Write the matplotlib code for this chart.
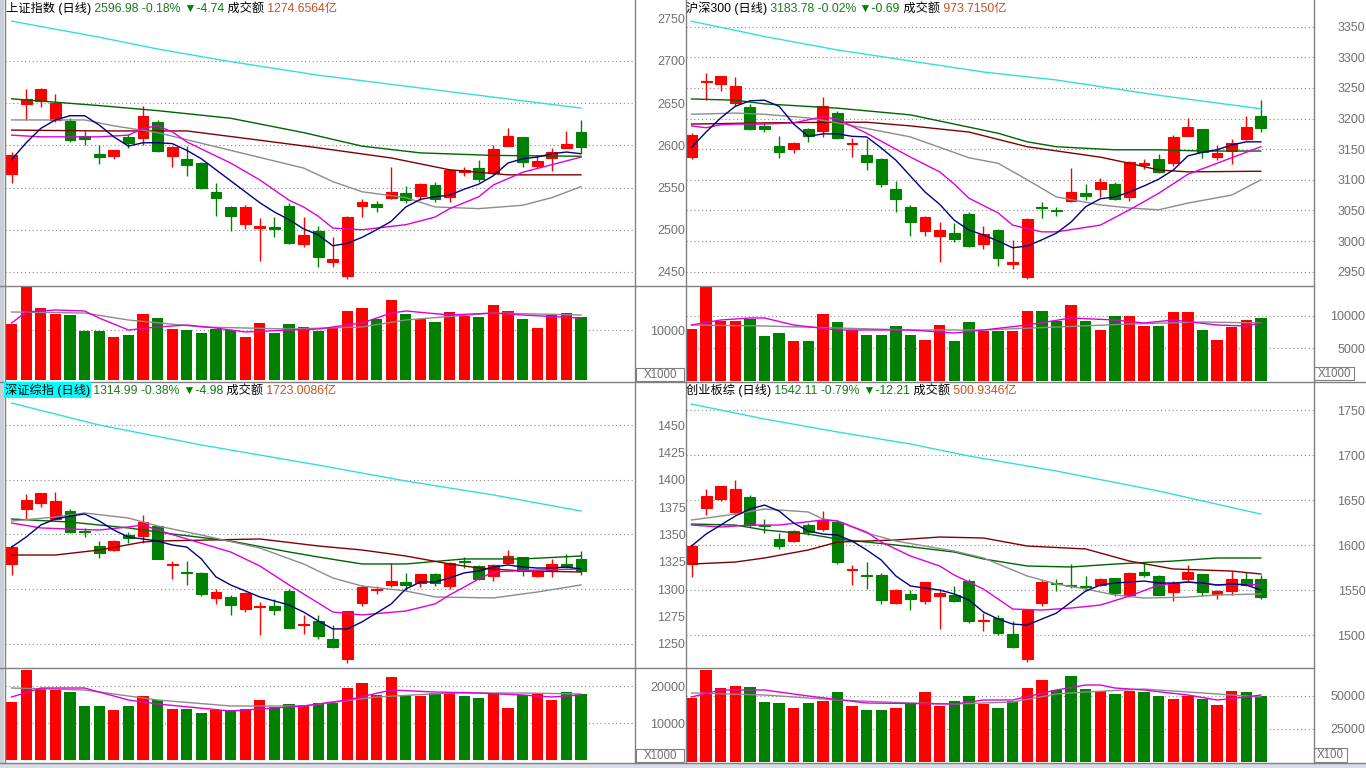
import numpy as np
import matplotlib
matplotlib.use("Agg")
import matplotlib.pyplot as plt

plt.rcParams["font.family"] = ["Liberation Sans", "Noto Sans CJK SC", "DejaVu Sans"]

W, H = 1366, 768
RED, GREEN = "#FF0000", "#008000"
MA_COLORS = {"ma5": "#000080", "ma10": "#DD00DD", "ma20": "#8C8C8C",
             "ma30": "#006400", "ma60": "#800000", "ma250": "#33DDDD"}

# ---------------- 上证指数 ----------------
sh_open = [2566.0, 2648.9, 2652.4, 2630.0, 2628.8, 2611.0, 2589.7, 2587.3, 2609.8, 2608.6,
           2627.6, 2587.3, 2583.8, 2579.0, 2544.7, 2527.0, 2506.8, 2502.1, 2503.3, 2528.1,
           2483.1, 2498.5, 2461.8, 2445.3, 2528.1, 2530.5, 2537.6, 2543.5, 2540.0, 2553.0,
           2538.8, 2568.4, 2573.1, 2567.2, 2599.2, 2609.8, 2575.5, 2585.0, 2596.8, 2615.7]
sh_high = [2592.0, 2666.7, 2667.8, 2660.7, 2632.3, 2617.0, 2600.4, 2594.4, 2613.4, 2646.5,
           2630.0, 2599.2, 2599.2, 2580.2, 2555.4, 2528.1, 2529.3, 2513.9, 2515.1, 2531.7,
           2515.1, 2504.4, 2491.4, 2516.3, 2536.4, 2534.1, 2574.3, 2551.8, 2555.4, 2556.6,
           2572.0, 2574.3, 2582.6, 2600.4, 2620.5, 2609.8, 2588.5, 2596.8, 2616.9, 2629.9]
sh_low = [2555.0, 2630.0, 2645.3, 2627.6, 2603.9, 2600.4, 2577.9, 2583.8, 2596.8, 2600.4,
          2592.1, 2574.3, 2563.7, 2548.3, 2516.3, 2498.5, 2500.9, 2463.0, 2491.4, 2483.1,
          2479.6, 2456.1, 2456.1, 2441.7, 2515.1, 2521.0, 2536.4, 2531.7, 2535.2, 2532.9,
          2532.9, 2563.7, 2556.6, 2566.0, 2599.2, 2574.3, 2573.1, 2569.6, 2596.8, 2590.9]
sh_close = [2588.5, 2654.8, 2666.7, 2650.0, 2606.3, 2607.5, 2586.1, 2594.4, 2602.7, 2634.7,
            2593.3, 2598.0, 2576.7, 2549.4, 2537.6, 2516.3, 2527.0, 2504.4, 2500.9, 2484.3,
            2493.8, 2467.7, 2465.4, 2515.1, 2532.9, 2527.0, 2544.7, 2535.2, 2554.2, 2536.4,
            2570.8, 2570.8, 2560.1, 2595.6, 2611.0, 2580.2, 2581.4, 2592.1, 2601.5, 2598.0]
sh_vol = [11200, 18750, 14450, 13230, 13030, 9860, 9860, 8590, 8990, 13230,
          12420, 10200, 10000, 9460, 10270, 10000, 8590, 11420, 9460, 11200,
          10700, 9860, 10340, 13840, 14450, 12220, 16060, 13230, 12290, 11620,
          13640, 12830, 12690, 15050, 13900, 12220, 10400, 13030, 13430, 12630]
sh_ma5 = [2583, 2603, 2620, 2630, 2635, 2635, 2624, 2610, 2599, 2603,
          2603, 2602, 2594, 2584, 2571, 2558, 2545, 2532, 2521, 2512,
          2501, 2494, 2481, 2484, 2491, 2500, 2510, 2527, 2536, 2539,
          2541, 2548, 2554, 2564, 2579, 2584, 2586, 2590, 2592, 2590]
sh_ma10_x = [0, 2, 4, 6, 8, 9, 10, 11, 12, 15, 17, 19, 20, 21, 22, 24, 27, 29, 30, 32, 33, 35, 37, 39]
sh_ma10 = [2612, 2610, 2610, 2610, 2612, 2620, 2623, 2616, 2604, 2579, 2559, 2535, 2527, 2516,
           2502, 2500, 2506, 2515, 2525, 2539, 2553, 2568, 2577, 2586]
sh_ma20_x = [0, 5, 7, 10, 15, 20, 22, 24, 27, 29, 32, 35, 37, 39]
sh_ma20 = [2630, 2630, 2623, 2615, 2594, 2573, 2557, 2545, 2538, 2527, 2525, 2529, 2538, 2551]
sh_ma30_x = [0, 6, 10, 15, 20, 24, 28, 33, 39]
sh_ma30 = [2655, 2647, 2641, 2632, 2615, 2599, 2591, 2588, 2587]
sh_ma60_x = [0, 6, 12, 17, 21, 26, 30, 34, 39]
sh_ma60 = [2618, 2617, 2617, 2606, 2597, 2585, 2571, 2565, 2565]
sh_ma250_x = [0, 6, 10, 15, 21, 27, 33, 39]
sh_ma250 = [2747, 2728, 2714, 2699, 2683, 2670, 2657, 2644]
sh_vma_a_x = [0, 1, 3, 5, 6, 8, 10, 12, 14, 16, 19, 21, 24, 26, 27, 30, 33, 35, 39]
sh_vma_a = [11410, 13640, 14040, 13840, 12420, 10000, 10610, 11010, 10400, 9600,
            10000, 10200, 11410, 13430, 13840, 13030, 13430, 13030, 12420]
sh_vma_b_x = [0, 5, 8, 13, 19, 24, 27, 33, 39]
sh_vma_b = [13640, 13430, 12020, 10610, 10200, 10610, 12020, 13430, 13030]

# ---------------- 沪深300 ----------------
hs_open = [3137.2, 3259.7, 3256.4, 3225.4, 3218.9, 3187.8, 3155.2, 3150.3, 3182.9, 3179.7,
           3209.1, 3158.4, 3140.5, 3134.0, 3085.0, 3055.6, 3016.4, 3008.2, 3013.1, 3044.1,
           2995.2, 3018.0, 2962.5, 2941.3, 3055.6, 3050.7, 3065.4, 3078.4, 3085.0, 3093.1,
           3071.9, 3124.2, 3134.0, 3127.4, 3171.5, 3182.9, 3137.2, 3147.0, 3166.6, 3204.2]
hs_high = [3176.4, 3274.4, 3269.5, 3267.9, 3223.8, 3192.7, 3171.5, 3161.7, 3184.6, 3235.2,
           3212.3, 3168.2, 3166.6, 3135.6, 3098.0, 3058.8, 3040.9, 3031.1, 3029.4, 3047.4,
           3024.5, 3019.6, 3001.7, 3037.6, 3063.7, 3055.6, 3119.3, 3093.1, 3102.9, 3096.4,
           3130.7, 3134.0, 3142.1, 3173.1, 3200.9, 3182.9, 3156.8, 3166.6, 3204.2, 3230.3]
hs_low = [3134.0, 3230.3, 3245.0, 3220.5, 3181.3, 3178.0, 3135.6, 3143.7, 3161.7, 3169.9,
          3166.6, 3137.2, 3116.0, 3088.2, 3047.4, 3008.2, 3008.2, 2965.8, 2998.4, 2990.2,
          2987.0, 2959.2, 2954.3, 2938.0, 3037.6, 3040.9, 3063.7, 3067.0, 3071.9, 3067.0,
          3065.4, 3117.6, 3111.1, 3122.5, 3171.5, 3135.6, 3132.3, 3125.8, 3165.0, 3178.0]
hs_close = [3173.1, 3261.3, 3269.5, 3253.2, 3182.9, 3182.9, 3145.4, 3160.1, 3171.5, 3220.5,
            3168.2, 3160.1, 3129.1, 3093.1, 3068.6, 3031.1, 3039.2, 3018.0, 3003.3, 2991.9,
            3011.5, 2972.3, 2965.8, 3036.0, 3054.0, 3049.0, 3080.1, 3073.5, 3096.4, 3068.6,
            3129.1, 3127.4, 3112.7, 3169.9, 3186.2, 3145.4, 3143.7, 3160.1, 3186.2, 3184.6]
hs_vol = [7940, 14354, 9162, 9162, 9467, 6872, 7330, 6108, 6108, 10231,
          9009, 7788, 7024, 7024, 8399, 7024, 6261, 8551, 6108, 9009,
          7635, 7635, 7635, 10689, 10689, 9162, 11605, 9162, 7788, 9926,
          9926, 8399, 8399, 10536, 10536, 7788, 6261, 8246, 9315, 9620]
hs_ma5 = [3153, 3178, 3201, 3220, 3229, 3230, 3220, 3191, 3171, 3175,
          3175, 3171, 3170, 3152, 3132, 3106, 3080, 3060, 3034, 3018,
          3010, 3000, 2989, 2992, 3002, 3013, 3031, 3056, 3069, 3072,
          3080, 3090, 3101, 3116, 3139, 3145, 3149, 3157, 3162, 3162]
hs_ma10_x = [0, 1, 2, 3, 5, 7, 9, 10, 12, 15, 17, 18, 19, 21, 22, 24, 25, 28, 30, 32, 34, 36, 39]
hs_ma10 = [3188, 3185, 3190, 3191, 3191, 3193, 3203, 3199, 3176, 3137, 3113, 3093, 3070, 3046,
           3026, 3015, 3015, 3026, 3051, 3078, 3109, 3127, 3154]
hs_ma20_x = [0, 3, 5, 8, 10, 15, 19, 21, 23, 25, 28, 30, 32, 34, 37, 39]
hs_ma20 = [3207, 3209, 3207, 3201, 3193, 3170, 3136, 3127, 3100, 3072, 3059, 3054, 3051, 3062, 3075, 3100]
hs_ma30_x = [0, 3, 5, 10, 15, 19, 21, 23, 25, 29, 32, 35, 39]
hs_ma30 = [3232, 3230, 3224, 3217, 3206, 3186, 3176, 3162, 3154, 3149, 3149, 3147, 3147]
hs_ma60_x = [0, 5, 10, 12, 15, 19, 23, 28, 30, 32, 34, 39]
hs_ma60 = [3191, 3193, 3194, 3194, 3188, 3178, 3154, 3137, 3127, 3116, 3113, 3114]
hs_ma250_x = [0, 5, 10, 15, 20, 25, 32, 39]
hs_ma250 = [3359, 3334, 3312, 3294, 3276, 3263, 3238, 3216]
hs_vma_a_x = [0, 2, 4, 5, 7, 10, 15, 18, 20, 23, 26, 29, 31, 33, 36, 38, 39]
hs_vma_a = [8551, 9315, 9620, 9620, 8551, 7788, 7788, 7330, 7788, 8551, 9620, 9315, 8857,
            9315, 8551, 8399, 8857]
hs_vma_b_x = [0, 5, 10, 15, 20, 25, 30, 35, 39]
hs_vma_b = [8551, 8399, 8093, 7788, 7788, 8246, 8704, 9009, 8857]

# ---------------- 深证综指 ----------------
sz_open = [1323.3, 1373.6, 1379.1, 1363.9, 1371.3, 1353.2, 1339.2, 1336.1, 1349.8, 1348.6,
           1357.5, 1322.1, 1315.7, 1314.8, 1291.8, 1292.8, 1282.1, 1283.6, 1284.5, 1298.0,
           1266.9, 1270.8, 1254.0, 1235.7, 1287.5, 1299.2, 1304.0, 1306.5, 1305.6, 1313.6,
           1302.6, 1325.7, 1320.9, 1311.7, 1324.2, 1329.4, 1311.7, 1317.8, 1322.7, 1327.3]
sz_high = [1340.4, 1386.8, 1388.0, 1388.9, 1373.6, 1356.2, 1343.8, 1345.0, 1352.3, 1367.6,
           1357.8, 1325.7, 1325.5, 1315.7, 1299.8, 1294.9, 1297.3, 1288.2, 1291.2, 1299.8,
           1276.0, 1276.3, 1267.4, 1280.0, 1304.0, 1302.8, 1323.9, 1314.8, 1314.1, 1315.0,
           1324.8, 1329.4, 1322.3, 1323.3, 1335.5, 1329.4, 1317.5, 1327.3, 1331.9, 1334.6]
sz_low = [1312.9, 1364.5, 1375.2, 1363.3, 1351.4, 1347.7, 1328.8, 1334.9, 1342.5, 1342.2,
          1327.6, 1309.0, 1303.5, 1293.7, 1286.6, 1276.0, 1279.0, 1257.7, 1276.0, 1264.4,
          1258.6, 1254.6, 1246.3, 1232.6, 1284.5, 1295.8, 1301.9, 1298.0, 1301.9, 1302.8,
          1299.8, 1319.6, 1308.6, 1307.2, 1323.3, 1311.7, 1311.1, 1311.1, 1319.3, 1313.2]
sz_close = [1338.6, 1381.3, 1388.0, 1380.7, 1352.3, 1352.3, 1333.3, 1343.8, 1347.1, 1361.5,
            1327.8, 1323.3, 1314.3, 1295.2, 1297.3, 1285.7, 1296.4, 1284.5, 1280.6, 1264.7,
            1268.3, 1257.0, 1247.0, 1279.7, 1301.9, 1300.1, 1307.4, 1304.0, 1313.6, 1305.6,
            1324.2, 1324.8, 1309.5, 1322.3, 1330.3, 1316.6, 1316.6, 1322.7, 1320.2, 1316.3]
sz_vol = [15680, 24330, 19460, 18920, 18380, 14600, 14600, 13520, 14600, 17300,
          16220, 13790, 13790, 12700, 13520, 13520, 13790, 16220, 14330, 15140,
          14870, 15410, 15410, 19460, 20810, 17570, 22440, 17570, 17300, 18110,
          18110, 17300, 16760, 18110, 14060, 17570, 18110, 16220, 18380, 17840]
sz_ma5 = [1338.5, 1347.7, 1358.7, 1364.2, 1366.9, 1368.8, 1362.4, 1354.1, 1347.7, 1345.9,
          1344.0, 1340.4, 1338.5, 1327.6, 1311.1, 1303.8, 1298.3, 1292.8, 1289.1, 1285.4,
          1279.0, 1270.8, 1263.5, 1263.5, 1269.9, 1278.1, 1286.4, 1300.1, 1306.5, 1306.5,
          1310.2, 1314.8, 1316.6, 1320.2, 1322.1, 1320.2, 1319.3, 1319.3, 1320.2, 1318.4]
sz_ma10_x = [0, 2, 4, 6, 8, 9, 10, 12, 15, 17, 19, 21, 22, 24, 27, 29, 30, 31, 32, 33, 36, 39]
sz_ma10 = [1360.5, 1356.0, 1355.0, 1354.1, 1356.9, 1358.7, 1354.1, 1345.9, 1334.0, 1321.2,
           1303.8, 1287.3, 1279.0, 1276.3, 1279.9, 1286.4, 1294.6, 1301.9, 1309.3, 1315.7,
           1317.5, 1318.4]
sz_ma20_x = [0, 3, 5, 8, 10, 13, 17, 20, 22, 24, 27, 29, 33, 36, 39]
sz_ma20 = [1362.4, 1366.0, 1369.7, 1365.1, 1357.8, 1349.5, 1337.6, 1323.0, 1310.2, 1302.8,
           1298.3, 1292.8, 1291.9, 1297.3, 1303.8]
sz_ma30_x = [0, 4, 8, 11, 15, 19, 21, 24, 27, 31, 35, 39]
sz_ma30 = [1364.2, 1361.4, 1356.0, 1350.5, 1344.0, 1334.0, 1329.4, 1323.0, 1323.0, 1327.6,
           1327.6, 1330.3]
sz_ma60_x = [0, 3, 6, 9, 10, 17, 21, 24, 27, 30, 32, 35, 39]
sz_ma60 = [1331.2, 1331.2, 1335.8, 1343.1, 1344.0, 1345.9, 1339.5, 1335.8, 1330.3, 1323.0,
           1319.3, 1316.6, 1315.7]
sz_ma250_x = [0, 6, 13, 21, 27, 33, 39]
sz_ma250 = [1470.4, 1450.3, 1432.0, 1413.6, 1399.0, 1386.2, 1371.5]
sz_vma_a_x = [0, 2, 5, 8, 10, 15, 18, 20, 23, 26, 29, 32, 35, 37, 39]
sz_vma_a = [17030, 19460, 19460, 16220, 15140, 13240, 14060, 14600, 16220, 18920,
            18380, 18110, 17570, 17030, 17570]
sz_vma_b_x = [0, 5, 10, 15, 20, 25, 30, 35, 39]
sz_vma_b = [19460, 18920, 16220, 14600, 14600, 17030, 18110, 18110, 17840]

# ---------------- 创业板综 ----------------
cy_open = [1579.0, 1641.8, 1651.8, 1637.1, 1653.7, 1622.6, 1606.7, 1604.5, 1622.3, 1618.5,
           1626.0, 1572.6, 1567.1, 1566.7, 1536.3, 1545.6, 1538.2, 1543.4, 1544.5, 1560.1,
           1516.0, 1519.3, 1501.2, 1473.4, 1536.3, 1558.2, 1556.0, 1554.9, 1555.6, 1563.7,
           1545.2, 1570.4, 1566.0, 1548.2, 1562.3, 1568.5, 1546.3, 1549.3, 1562.3, 1563.0]
cy_high = [1601.8, 1662.9, 1665.9, 1672.3, 1656.3, 1629.6, 1614.1, 1616.7, 1625.2, 1638.2,
           1627.1, 1578.5, 1581.5, 1569.3, 1551.8, 1550.1, 1559.3, 1551.2, 1554.5, 1562.9,
           1525.2, 1522.3, 1515.6, 1528.2, 1561.2, 1562.3, 1579.6, 1566.0, 1563.7, 1563.7,
           1570.4, 1580.7, 1567.1, 1560.1, 1577.9, 1568.5, 1550.4, 1571.2, 1570.4, 1567.4]
cy_low = [1564.8, 1634.1, 1648.9, 1635.2, 1620.4, 1614.1, 1596.3, 1603.7, 1611.8, 1616.0,
          1579.6, 1555.6, 1551.8, 1535.2, 1535.2, 1528.5, 1535.2, 1506.7, 1537.1, 1514.1,
          1504.5, 1500.1, 1486.3, 1470.4, 1532.6, 1548.9, 1552.6, 1548.9, 1554.9, 1543.7,
          1542.6, 1564.8, 1544.5, 1537.8, 1560.1, 1543.7, 1540.1, 1544.5, 1554.9, 1540.7]
cy_close = [1599.3, 1654.8, 1665.9, 1662.3, 1622.9, 1621.5, 1599.3, 1615.6, 1614.8, 1628.5,
            1581.5, 1573.7, 1566.0, 1539.6, 1550.1, 1540.7, 1559.3, 1547.4, 1538.2, 1515.6,
            1517.1, 1503.0, 1487.1, 1527.9, 1559.3, 1557.1, 1554.9, 1553.8, 1562.3, 1547.4,
            1569.6, 1567.4, 1545.2, 1558.5, 1570.4, 1548.2, 1549.3, 1562.3, 1555.6, 1542.6]
cy_vol = [48490, 69700, 56060, 57580, 56820, 45460, 44700, 40910, 44700, 46210,
          53030, 42430, 39400, 39400, 40910, 44700, 53030, 42430, 46210, 50000,
          43700, 40900, 46000, 56060, 62350, 54800, 65150, 55530, 53790, 51740,
          53790, 53030, 49770, 47950, 49770, 47950, 42950, 53790, 53030, 50000]
cy_ma5 = [1599.3, 1612.6, 1622.6, 1632.6, 1640.4, 1644.8, 1638.2, 1624.8, 1616.0, 1612.6,
          1611.5, 1604.8, 1594.9, 1583.7, 1566.0, 1554.9, 1552.6, 1550.4, 1546.0, 1539.3,
          1526.0, 1518.2, 1512.6, 1511.5, 1518.2, 1524.8, 1537.1, 1549.3, 1555.9, 1558.2,
          1559.3, 1560.4, 1558.2, 1558.2, 1559.3, 1558.2, 1556.0, 1557.1, 1556.0, 1550.4]
cy_ma10_x = [0, 2, 4, 6, 9, 10, 12, 13, 15, 17, 18, 20, 22, 24, 26, 28, 30, 32, 34, 36, 38, 39]
cy_ma10 = [1622.6, 1620.4, 1622.6, 1622.6, 1628.2, 1627.1, 1614.8, 1603.7, 1588.2, 1577.1,
           1567.1, 1551.5, 1529.3, 1528.2, 1530.4, 1533.7, 1543.7, 1555.9, 1559.3, 1555.9,
           1557.0, 1555.9]
cy_ma20_x = [0, 3, 5, 8, 9, 10, 12, 14, 18, 20, 23, 25, 27, 29, 31, 34, 36, 39]
cy_ma20 = [1628.2, 1634.8, 1640.4, 1637.1, 1629.3, 1627.1, 1613.7, 1604.8, 1593.7, 1586.0,
           1566.0, 1557.1, 1551.5, 1544.9, 1541.5, 1542.6, 1544.9, 1546.0]
cy_ma30_x = [0, 3, 5, 8, 10, 12, 14, 18, 20, 23, 26, 29, 33, 36, 39]
cy_ma30 = [1623.7, 1622.6, 1617.1, 1612.6, 1607.1, 1603.7, 1600.4, 1592.6, 1584.9, 1577.1,
           1576.0, 1579.3, 1582.6, 1586.0, 1586.0]
cy_ma60_x = [0, 3, 5, 8, 10, 14, 17, 20, 23, 27, 30, 33, 37, 39]
cy_ma60 = [1579.3, 1581.5, 1586.0, 1594.9, 1603.7, 1606.0, 1609.3, 1608.2, 1599.3, 1596.0,
           1582.6, 1573.8, 1571.5, 1568.2]
cy_ma250_x = [0, 5, 10, 15, 19, 25, 32, 39]
cy_ma250 = [1757.0, 1740.4, 1726.0, 1712.6, 1699.3, 1682.6, 1660.4, 1634.8]
cy_vma_a_x = [0, 2, 5, 8, 12, 18, 20, 22, 25, 27, 28, 29, 31, 34, 36, 38, 39]
cy_vma_a = [49244, 54547, 54547, 50002, 44698, 43941, 46971, 46971, 54547, 58335, 58335,
            56062, 54547, 50759, 46971, 49244, 50759]
cy_vma_b_x = [0, 5, 10, 15, 18, 22, 25, 27, 31, 34, 36, 39]
cy_vma_b = [52274, 50759, 46971, 44698, 43941, 45456, 51517, 53032, 55305, 53032, 51517, 49244]

fig = plt.figure(figsize=(W / 100, H / 100), dpi=100, facecolor="white")


def px_axes(x0, y0, x1, y1):
    return fig.add_axes([x0 / W, 1 - y1 / H, (x1 - x0) / W, (y1 - y0) / H])


def style_axes(ax, xlim, ylim, ticks, grid):
    ax.set_xlim(*xlim)
    ax.set_ylim(*ylim)
    ax.set_xticks([])
    ax.set_yticks(ticks)
    ax.set_yticklabels([str(t) for t in ticks])
    ax.tick_params(axis="y", left=False, right=False, labelleft=False, labelright=True,
                   pad=33.5, labelsize=9, labelcolor="#707070")
    for t in ax.yaxis.get_major_ticks():
        t.label2.set_horizontalalignment("right")
    for g in grid:
        ax.axhline(g, color="#8C8C8C", lw=0.8, ls=(0, (1, 2.5)), zorder=0)
    for s in ax.spines.values():
        s.set_visible(False)
    ax.set_facecolor("white")


def draw_panel(pax, vax, o, h, l, c, v, ma5, lines, vlines_):
    o, h, l, c = map(np.asarray, (o, h, l, c))
    x = np.arange(len(o))
    cols = np.where(c >= o, RED, GREEN)
    pax.vlines(x, l, h, colors=cols, lw=1.0, zorder=2)
    pax.bar(x, c - o, bottom=o, width=0.74, color=cols, edgecolor=cols, lw=0.8, zorder=2)
    for xs, ys, col in lines:
        pax.plot(xs, ys, color=col, lw=1.0, zorder=3)
    pax.plot(x, ma5, color=MA_COLORS["ma5"], lw=1.0, zorder=3)
    vax.bar(x, v, width=0.78, color=cols, zorder=2)
    for xs, ys, col in vlines_:
        vax.plot(xs, ys, color=col, lw=1.0, zorder=3)


LEFT_X = (-0.452, 42.63)
RIGHT_X = (-0.377, 42.64)

# top-left
p = px_axes(5, 0, 634, 286)
vv = px_axes(5, 286, 634, 381)
style_axes(p, LEFT_X, (2433.4, 2772.0), list(range(2450, 2751, 50)), list(range(2450, 2701, 50)))
style_axes(vv, LEFT_X, (-303, 18889), [10000], [10000])
draw_panel(p, vv, sh_open, sh_high, sh_low, sh_close, sh_vol, sh_ma5,
           [(sh_ma250_x, sh_ma250, MA_COLORS["ma250"]), (sh_ma30_x, sh_ma30, MA_COLORS["ma30"]),
            (sh_ma60_x, sh_ma60, MA_COLORS["ma60"]), (sh_ma20_x, sh_ma20, MA_COLORS["ma20"]),
            (sh_ma10_x, sh_ma10, MA_COLORS["ma10"])],
           [(sh_vma_b_x, sh_vma_b, MA_COLORS["ma20"]), (sh_vma_a_x, sh_vma_a, MA_COLORS["ma10"])])

# top-right
p = px_axes(686, 0, 1314, 286)
vv = px_axes(686, 286, 1314, 381)
style_axes(p, RIGHT_X, (2926.6, 3393.6), list(range(2950, 3351, 50)), list(range(2950, 3351, 50)))
style_axes(vv, RIGHT_X, (0, 14506), [5000, 10000], [5000, 10000])
draw_panel(p, vv, hs_open, hs_high, hs_low, hs_close, hs_vol, hs_ma5,
           [(hs_ma250_x, hs_ma250, MA_COLORS["ma250"]), (hs_ma30_x, hs_ma30, MA_COLORS["ma30"]),
            (hs_ma60_x, hs_ma60, MA_COLORS["ma60"]), (hs_ma20_x, hs_ma20, MA_COLORS["ma20"]),
            (hs_ma10_x, hs_ma10, MA_COLORS["ma10"])],
           [(hs_vma_b_x, hs_vma_b, MA_COLORS["ma20"]), (hs_vma_a_x, hs_vma_a, MA_COLORS["ma10"])])

# bottom-left
p = px_axes(5, 382, 634, 668)
vv = px_axes(5, 668, 634, 762)
style_axes(p, LEFT_X, (1227.7, 1489.7), list(range(1250, 1451, 25)), list(range(1250, 1451, 50)))
style_axes(vv, LEFT_X, (-541, 24868), [10000, 20000], [10000, 20000])
draw_panel(p, vv, sz_open, sz_high, sz_low, sz_close, sz_vol, sz_ma5,
           [(sz_ma250_x, sz_ma250, MA_COLORS["ma250"]), (sz_ma30_x, sz_ma30, MA_COLORS["ma30"]),
            (sz_ma60_x, sz_ma60, MA_COLORS["ma60"]), (sz_ma20_x, sz_ma20, MA_COLORS["ma20"]),
            (sz_ma10_x, sz_ma10, MA_COLORS["ma10"])],
           [(sz_vma_b_x, sz_vma_b, MA_COLORS["ma20"]), (sz_vma_a_x, sz_vma_a, MA_COLORS["ma10"])])

# bottom-right
p = px_axes(686, 382, 1314, 668)
vv = px_axes(686, 668, 1314, 762)
style_axes(p, RIGHT_X, (1463.8, 1781.5), list(range(1500, 1751, 50)), list(range(1500, 1751, 50)))
style_axes(vv, RIGHT_X, (0, 71212), [25000, 50000], [25000, 50000])
draw_panel(p, vv, cy_open, cy_high, cy_low, cy_close, cy_vol, cy_ma5,
           [(cy_ma250_x, cy_ma250, MA_COLORS["ma250"]), (cy_ma30_x, cy_ma30, MA_COLORS["ma30"]),
            (cy_ma60_x, cy_ma60, MA_COLORS["ma60"]), (cy_ma20_x, cy_ma20, MA_COLORS["ma20"]),
            (cy_ma10_x, cy_ma10, MA_COLORS["ma10"])],
           [(cy_vma_b_x, cy_vma_b, MA_COLORS["ma20"]), (cy_vma_a_x, cy_vma_a, MA_COLORS["ma10"])])

# overlay: frame lines, headers, unit boxes
ov = fig.add_axes([0, 0, 1, 1], zorder=10)
ov.set_xlim(0, W)
ov.set_ylim(H, 0)
ov.axis("off")
ov.patch.set_alpha(0)

ov.add_patch(plt.Rectangle((0, 0), 4, H, color="#C8CDD6", lw=0))
ov.add_patch(plt.Rectangle((0, 763), W, 5, color="#D8DCE4", lw=0))
FRAME = "#808080"
for xv in (4.5, 634.5, 686.0, 1314.0):
    ov.plot([xv, xv], [0, 763], color=FRAME, lw=1)
for yv, x1 in ((285.5, 1314), (381.5, W), (668.0, 1314), (762.5, W)):
    ov.plot([0, x1], [yv, yv], color=FRAME, lw=1)

HDR_SIZE = 8.8
DARK_GREEN, TEXT_GREEN, AMOUNT = "#1A7A1A", "#008000", "#C8501E"


def header(x, y, parts, bg=None):
    t = ov.text(x, y, parts[0], color="black", fontsize=HDR_SIZE, va="center", ha="left",
                bbox=dict(facecolor=bg, edgecolor="none", pad=0.8) if bg else None)
    for s, col in zip(parts[1:], (DARK_GREEN, TEXT_GREEN, "black", AMOUNT)):
        t = ov.annotate(s, xy=(1, 0), xycoords=t, color=col, fontsize=HDR_SIZE,
                        va="bottom", ha="left")


header(6, 8, ["上证指数 (日线)", " 2596.98 -0.18%", " ▼-4.74", " 成交额", " 1274.6564亿"])
header(686, 8, ["沪深300 (日线)", " 3183.78 -0.02%", " ▼-0.69", " 成交额", " 973.7150亿"])
header(5, 390, ["深证综指 (日线)", " 1314.99 -0.38%", " ▼-4.98", " 成交额", " 1723.0086亿"],
       bg="#00FFFF")
header(686, 390, ["创业板综 (日线)", " 1542.11 -0.79%", " ▼-12.21", " 成交额", " 500.9346亿"])

# unit boxes under the volume scales
for x0, y0, bw, bh, s in ((636, 368, 48, 13, "X1000"), (1314, 367, 40, 13, "X1000"),
                          (636, 749, 48, 13, "X1000"), (1314, 748, 33, 14, "X100")):
    ov.add_patch(plt.Rectangle((x0, y0), bw, bh, facecolor="white", edgecolor=FRAME, lw=0.8))
    ov.text(x0 + bw / 2, y0 + bh / 2 + 0.5, s, ha="center", va="center", fontsize=8.3, color="#707070")

fig.savefig("out.png", dpi=100, facecolor="white")
